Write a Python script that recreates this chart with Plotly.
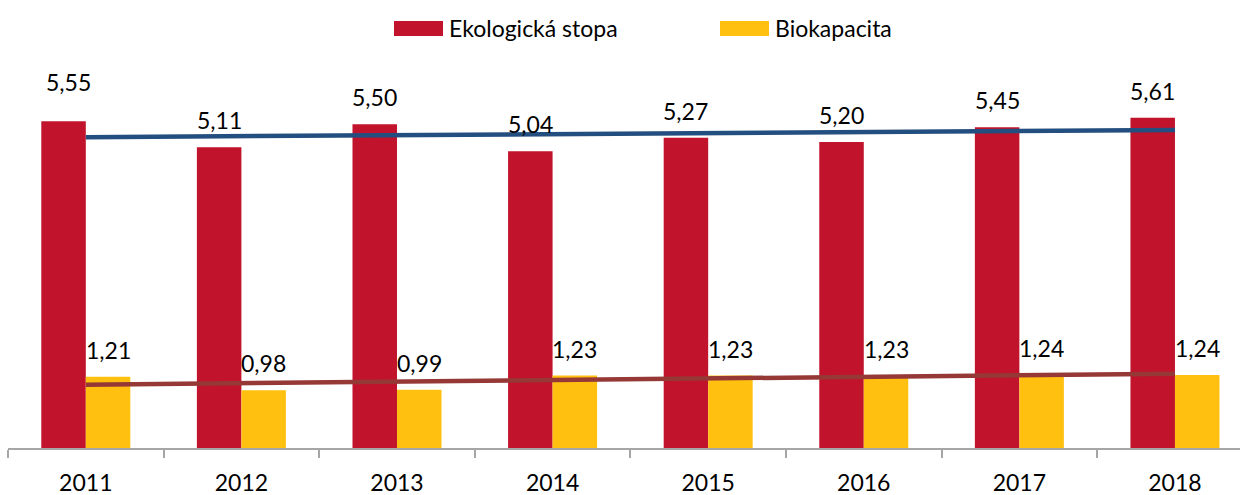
import numpy as np
import plotly.graph_objects as go

years = ["2011", "2012", "2013", "2014", "2015", "2016", "2017", "2018"]
ekologicka_stopa = [5.55, 5.11, 5.50, 5.04, 5.27, 5.20, 5.45, 5.61]
biokapacita = [1.21, 0.98, 0.99, 1.23, 1.23, 1.23, 1.24, 1.24]
series_names = ["Ekologická stopa", "Biokapacita"]

RED = "#C1132B"
YELLOW = "#FFC010"
BLUE = "#234E80"
BROWN = "#953836"
FONT = "Lato"
FS = 23

W, H = 1240, 495
ML, MR, MT, MB = 8, 0, 36, 47
X_RANGE = [-0.5, 7.418]
Y_RANGE = [0, 7]
BARGAP = 0.428

plot_w = W - ML - MR
plot_h = H - MT - MB
px_per_cat = plot_w / (X_RANGE[1] - X_RANGE[0])
bar_w = px_per_cat * (1 - BARGAP) / 2


def fmt(v):
    return f"{v:.2f}".replace(".", ",")


def trend(vals):
    idx = np.arange(len(vals))
    k, q = np.polyfit(idx, vals, 1)
    return list(k * idx + q)


fig = go.Figure()
fig.add_trace(go.Bar(x=years, y=ekologicka_stopa, name=series_names[0],
                     marker=dict(color=RED, line=dict(width=0)), showlegend=False))
fig.add_trace(go.Bar(x=years, y=biokapacita, name=series_names[1],
                     marker=dict(color=YELLOW, line=dict(width=0)), showlegend=False))

annotations = []
label_lift = 27
for i, yr in enumerate(years):
    extra = 12 if i == 0 else 0
    annotations.append(dict(x=i, y=ekologicka_stopa[i], xref="x", yref="y",
                            text=fmt(ekologicka_stopa[i]), showarrow=False,
                            xshift=-bar_w / 2 + (5 if i == 0 else 0),
                            yshift=label_lift + extra,
                            yanchor="middle", font=dict(family=FONT, size=FS, color="#000000")))
    annotations.append(dict(x=i, y=biokapacita[i], xref="x", yref="y",
                            text=fmt(biokapacita[i]), showarrow=False,
                            xshift=bar_w / 2, yshift=label_lift,
                            yanchor="middle", font=dict(family=FONT, size=FS, color="#000000")))

fig.add_trace(go.Scatter(x=years, y=trend(ekologicka_stopa), mode="lines",
                         line=dict(color=BLUE, width=4.5), showlegend=False, hoverinfo="skip"))
fig.add_trace(go.Scatter(x=years, y=trend(biokapacita), mode="lines",
                         line=dict(color=BROWN, width=4.5), showlegend=False, hoverinfo="skip"))


def px_to_paper_x(px):
    return (px - ML) / plot_w


def py_to_paper_y(py):
    return (H - MB - py) / plot_h


shapes = []
legend_items = [(series_names[0], RED, 394), (series_names[1], YELLOW, 720)]
for name, col, x0 in legend_items:
    shapes.append(dict(type="rect", xref="paper", yref="paper",
                       x0=px_to_paper_x(x0), x1=px_to_paper_x(x0 + 49),
                       y0=py_to_paper_y(36), y1=py_to_paper_y(21),
                       fillcolor=col, line=dict(width=0)))
    annotations.append(dict(x=px_to_paper_x(x0 + 53), y=py_to_paper_y(28.5),
                            xref="paper", yref="paper", text=name, showarrow=False,
                            xanchor="left", yanchor="middle",
                            font=dict(family=FONT, size=FS, color="#000000")))

fig.update_layout(
    width=W, height=H,
    margin=dict(l=ML, r=MR, t=MT, b=MB, pad=0),
    paper_bgcolor="white", plot_bgcolor="white",
    barmode="group", bargap=BARGAP, bargroupgap=0,
    showlegend=False,
    annotations=annotations, shapes=shapes,
    xaxis=dict(type="category", range=X_RANGE, showgrid=False,
               showline=True, linecolor="#A6A6A6", linewidth=1.5,
               ticks="outside", tickson="boundaries", ticklen=8,
               tickcolor="#A6A6A6", tickwidth=1.5, ticklabelstandoff=14,
               tickfont=dict(family=FONT, size=FS, color="#000000")),
    yaxis=dict(range=Y_RANGE, visible=False, showgrid=False, zeroline=False),
)

fig.write_html("out.html", config={"displayModeBar": False},
               post_script="document.body.style.margin='0';")
